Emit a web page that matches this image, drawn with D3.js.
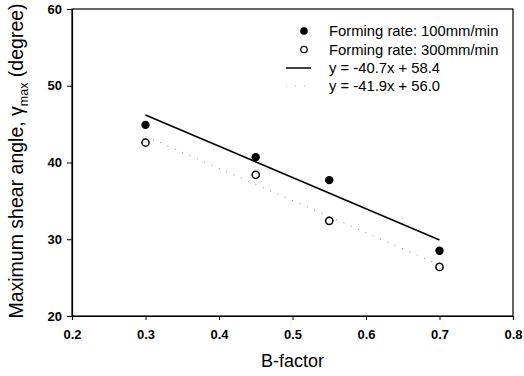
<!DOCTYPE html>
<html>
<head>
<meta charset="utf-8">
<script src="https://cdn.jsdelivr.net/npm/d3@7"></script>
<style>
  body { margin: 0; background: #fff; }
  svg { display: block; font-family: "Liberation Sans", Arial, sans-serif; }
</style>
</head>
<body>
<svg id="chart" width="524" height="376"></svg>
<script>
// data
const bFactor = [0.3, 0.45, 0.55, 0.7];
const rate100 = [44.9, 40.7, 37.7, 28.5];
const rate300 = [42.6, 38.4, 32.4, 26.4];
const fit100 = {slope: -40.7, icpt: 58.4};
const fit300 = {slope: -41.9, icpt: 56.0};
const xTicks = [0.2, 0.3, 0.4, 0.5, 0.6, 0.7, 0.8];
const yTicks = [20, 30, 40, 50, 60];
const legendLabels = ["Forming rate: 100mm/min", "Forming rate: 300mm/min",
    "y = -40.7x + 58.4", "y = -41.9x + 56.0"];

const svg = d3.select("#chart");
const m = {left: 72, right: 11, top: 9, bottom: 60};
const width = +svg.attr("width"), height = +svg.attr("height");

const x = d3.scaleLinear().domain([0.2, 0.8]).range([m.left, width - m.right]);
const y = d3.scaleLinear().domain([20, 60]).range([height - m.bottom, m.top]);

// frame
svg.append("rect")
    .attr("x", x(0.2)).attr("y", y(60))
    .attr("width", x(0.8) - x(0.2)).attr("height", y(20) - y(60))
    .attr("fill", "none").attr("stroke", "#000").attr("stroke-width", 1.2);

const xAxis = svg.append("g")
    .attr("transform", "translate(0," + y(20) + ")")
    .call(d3.axisBottom(x).tickValues(xTicks).tickFormat(d3.format(".1f")).tickSize(4).tickPadding(10));
const yAxis = svg.append("g")
    .attr("transform", "translate(" + x(0.2) + ",0)")
    .call(d3.axisLeft(y).tickValues(yTicks).tickSize(5).tickPadding(5));

[xAxis, yAxis].forEach(function (a) {
    a.select(".domain").attr("stroke-width", 1.2);
    a.selectAll("text").attr("font-size", 13).attr("font-weight", "bold").attr("fill", "#000");
});

// fit lines
const line = d3.line().x(function (d) { return x(d[0]); }).y(function (d) { return y(d[1]); });
function fitPts(f) {
    return [0.3, 0.7].map(function (b) { return [b, f.slope * b + f.icpt]; });
}
svg.append("path").attr("d", line(fitPts(fit100)))
    .attr("fill", "none").attr("stroke", "#000").attr("stroke-width", 1.6);
svg.append("path").attr("d", line(fitPts(fit300)))
    .attr("fill", "none").attr("stroke", "#888").attr("stroke-width", 1)
    .attr("stroke-dasharray", "1,7");

// points
svg.selectAll(".p100").data(bFactor).enter().append("circle")
    .attr("cx", function (d) { return x(d); })
    .attr("cy", function (d, i) { return y(rate100[i]); })
    .attr("r", 4.2).attr("fill", "#000");
svg.selectAll(".p300").data(bFactor).enter().append("circle")
    .attr("cx", function (d) { return x(d); })
    .attr("cy", function (d, i) { return y(rate300[i]); })
    .attr("r", 3.6).attr("fill", "#fff").attr("stroke", "#000").attr("stroke-width", 1.5);

// legend
const lg = svg.append("g");
const rowY = [31, 49.5, 68, 86];
lg.append("circle").attr("cx", 304).attr("cy", rowY[0]).attr("r", 3.8).attr("fill", "#000");
lg.append("circle").attr("cx", 304).attr("cy", rowY[1]).attr("r", 3.2).attr("fill", "#fff")
    .attr("stroke", "#000").attr("stroke-width", 1.3);
lg.append("line").attr("x1", 286).attr("x2", 311).attr("y1", rowY[2]).attr("y2", rowY[2])
    .attr("stroke", "#000").attr("stroke-width", 1.5);
lg.append("line").attr("x1", 286).attr("x2", 311).attr("y1", rowY[3]).attr("y2", rowY[3])
    .attr("stroke", "#bbb").attr("stroke-width", 1).attr("stroke-dasharray", "1,8");
lg.selectAll("text").data(legendLabels).enter().append("text")
    .attr("x", 329).attr("y", function (d, i) { return rowY[i] + 5; })
    .attr("font-size", 14.8).attr("fill", "#000")
    .text(function (d) { return d; });

// axis titles
svg.append("text")
    .attr("x", (x(0.2) + x(0.8)) / 2).attr("y", 367)
    .attr("text-anchor", "middle").attr("font-size", 18).attr("fill", "#000")
    .text("B-factor");

const yt = svg.append("text")
    .attr("transform", "translate(23," + 161 + ") rotate(-90)")
    .attr("text-anchor", "middle").attr("font-size", 19.5).attr("fill", "#000");
yt.append("tspan").text("Maximum shear angle, \u03b3");
yt.append("tspan").attr("font-size", 12.5).attr("dy", 5).text("max");
yt.append("tspan").attr("dy", -5).text(" (degree)");
</script>
</body>
</html>
